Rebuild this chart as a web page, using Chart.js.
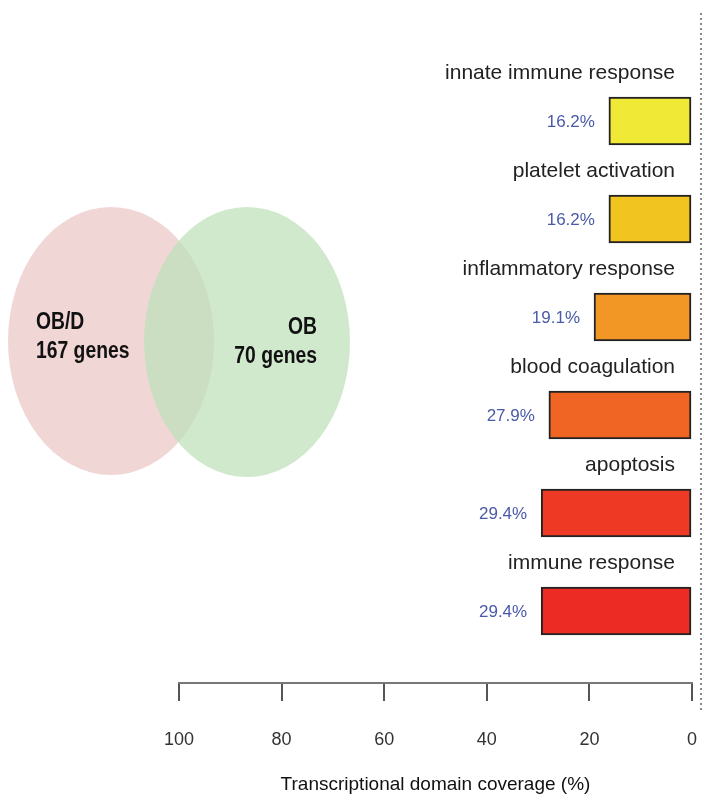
<!DOCTYPE html>
<html>
<head>
<meta charset="utf-8">
<script src="https://cdn.jsdelivr.net/npm/chart.js@4"></script>
<style>
  html, body { margin: 0; padding: 0; background: #fff; }
  #wrap { width: 704px; height: 800px; }
</style>
</head>
<body>
<div id="wrap"><canvas id="chartCoverage" width="704" height="800"></canvas></div>
<script>
// data
const terms = ['innate immune response', 'platelet activation', 'inflammatory response',
               'blood coagulation', 'apoptosis', 'immune response']
const coverage = [16.2, 16.2, 19.1, 27.9, 29.4, 29.4]
const barColors = ['#f0e935', '#f2c41f', '#f29626', '#f06424', '#ee3a24', '#ec2b24']
const xTicks = [100, 80, 60, 40, 20, 0]
const vennSets = ['OB/D', 'OB']
const vennGenes = [167, 70]

const font = "'Liberation Sans', Arial, sans-serif"

// squeezed text, the figure uses a narrow face
function narrowText(ctx, text, x, y, squeeze) {
    ctx.save()
    ctx.translate(x, y)
    ctx.scale(squeeze, 1)
    ctx.fillText(text, 0, 0)
    ctx.restore()
}

// venn diagram on the left, category + percent labels, dotted line on the right
const annotations = {
    id: 'annotations',
    beforeDatasetsDraw(chart) {
        const ctx = chart.ctx
        ctx.save()
        ctx.fillStyle = 'rgba(236, 200, 200, 0.75)'
        ctx.beginPath()
        ctx.ellipse(111, 341, 103, 134, 0, 0, Math.PI * 2)
        ctx.fill()
        ctx.fillStyle = 'rgba(190, 225, 185, 0.72)'
        ctx.beginPath()
        ctx.ellipse(247, 342, 103, 135, 0, 0, Math.PI * 2)
        ctx.fill()

        ctx.fillStyle = '#111'
        ctx.font = 'bold 23px ' + font
        ctx.textBaseline = 'middle'
        ctx.textAlign = 'left'
        narrowText(ctx, vennSets[0], 36, 323, 0.84)
        narrowText(ctx, vennGenes[0] + ' genes', 36, 352, 0.84)
        ctx.textAlign = 'right'
        narrowText(ctx, vennSets[1], 317, 328, 0.84)
        narrowText(ctx, vennGenes[1] + ' genes', 317, 357, 0.84)

        // dotted separator
        ctx.strokeStyle = '#888'
        ctx.lineWidth = 2
        ctx.setLineDash([2, 3])
        ctx.beginPath()
        ctx.moveTo(701, 13)
        ctx.lineTo(701, 712)
        ctx.stroke()
        ctx.restore()
    },
    afterDatasetsDraw(chart) {
        const ctx = chart.ctx
        const x = chart.scales.x
        const y = chart.scales.y
        ctx.save()
        ctx.textBaseline = 'middle'
        ctx.textAlign = 'right'
        terms.forEach((term, i) => {
            const cy = y.getPixelForValue(i)
            ctx.fillStyle = '#222'
            ctx.font = '21px ' + font
            ctx.fillText(term, x.getPixelForValue(0) - 17, cy - 48)
            ctx.fillStyle = '#4a5aa8'
            ctx.font = '17px ' + font
            ctx.fillText(coverage[i] + '%', x.getPixelForValue(coverage[i]) - 14, cy + 1)
        })
        ctx.restore()
    }
}

const data = {
    datasets: [{
        data: coverage.map((v, i) => ({ x: v, y: i })),
        backgroundColor: barColors,
        borderColor: '#222',
        borderWidth: 2,
        borderSkipped: false,
        barThickness: 48
    }]
}

const options = {
    indexAxis: 'y',
    responsive: false,
    animation: false,
    layout: { padding: { left: 179, right: 12, top: 72, bottom: 0 } },
    plugins: {
        legend: { display: false },
        tooltip: { enabled: false }
    },
    scales: {
        y: {
            type: 'linear',
            display: false,
            reverse: true,
            offset: false,
            grid: { offset: false },
            min: -0.5,
            max: 5.735
        },
        x: {
            type: 'linear',
            reverse: true,
            min: 0,
            max: 100,
            afterBuildTicks: scale => { scale.ticks = xTicks.map(v => ({ value: v })) },
            afterFit: scale => {
                scale.height = 117
                scale.paddingLeft = 0
                scale.paddingRight = 0
            },
            border: { display: true, color: '#777', width: 2 },
            grid: { drawOnChartArea: false, drawTicks: true, tickLength: 18, color: '#555', lineWidth: 2 },
            ticks: {
                color: '#333',
                padding: 28,
                maxRotation: 0,
                font: { family: font, size: 18 }
            },
            title: {
                display: true,
                text: 'Transcriptional domain coverage (%)',
                color: '#111',
                font: { family: font, size: 19 },
                padding: { top: 0, bottom: 4 }
            }
        }
    }
}

new Chart('chartCoverage', { type: 'bar', data, options, plugins: [annotations] })
</script>
</body>
</html>
